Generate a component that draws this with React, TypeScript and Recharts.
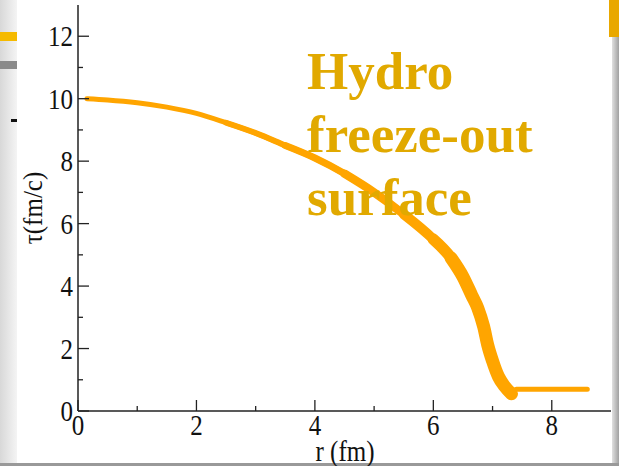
import React from 'react';
import { LineChart, Line, XAxis, YAxis } from 'recharts';

// freeze-out surface: r (fm) and tau (fm/c)
const rValues = [0.15, 0.5, 1.0, 1.5, 2.0, 2.5, 3.0, 3.5, 4.0, 4.5, 5.0, 5.5, 6.0, 6.3, 6.5, 6.65, 6.75, 6.85, 6.92, 7.0, 7.1, 7.2, 7.32, 7.4, 8.0, 8.6];
const tauValues = [10.0, 9.96, 9.87, 9.73, 9.53, 9.23, 8.9, 8.5, 8.1, 7.6, 7.0, 6.3, 5.5, 4.9, 4.3, 3.7, 3.3, 2.7, 2.1, 1.6, 1.1, 0.8, 0.55, 0.7, 0.7, 0.7];

const xTicks = [0, 1, 2, 3, 4, 5, 6, 7, 8, 9];
const yTicks = [0, 1, 2, 3, 4, 5, 6, 7, 8, 9, 10, 11, 12, 13];

const surface = rValues.map((r, i) => ({ r, tau: tauValues[i] }));
// the band of points gets wider as the surface gets steeper
const bands = [
  { from: 0, width: 5 },
  { from: 2.5, width: 6 },
  { from: 3.5, width: 7 },
  { from: 4.5, width: 8.5 },
  { from: 5.3, width: 10 },
  { from: 5.9, width: 11.5 },
  { from: 6.3, width: 13 },
];
const bandData = bands.map(b => surface.filter(d => d.r >= b.from && d.r <= (b.from === 0 ? 99 : 7.32)));

const ORANGE = '#FFA500';
const GOLD = '#E1A900';
const FONT = '"Liberation Serif", "Times New Roman", serif';
const AXIS = '#222';

const major = (v: number) => v % 2 === 0;

// the figure's digits are a little taller than they are wide
const Label = ({ x, y, anchor, v }: { x: number; y: number; anchor: string; v: number }) => (
  <text transform={`translate(${x},${y}) scale(1,1.2)`} textAnchor={anchor} fontFamily={FONT} fontSize={25} fill="#111">{v}</text>
);

const BottomTick = (props: any) => {
  const { x, y, payload } = props;
  const v = payload.value;
  if (v === 9) return null;
  const len = major(v) ? 11 : 5;
  return (
    <g>
      <line x1={x} y1={y} x2={x} y2={y - len} stroke={AXIS} strokeWidth={1.3} />
      {major(v) && <Label x={x} y={y + 24} anchor="middle" v={v} />}
    </g>
  );
};

const TopTick = (props: any) => {
  const { x, y, payload } = props;
  const v = payload.value;
  if (v === 0 || v === 9) return null;
  const len = major(v) ? 11 : 5;
  return <line x1={x} y1={y} x2={x} y2={y + len} stroke={AXIS} strokeWidth={1.3} />;
};

const LeftTick = (props: any) => {
  const { x, y, payload } = props;
  const v = payload.value;
  if (v === 13) return null;
  const len = major(v) ? 11 : 5;
  return (
    <g>
      <line x1={x} y1={y} x2={x + len} y2={y} stroke={AXIS} strokeWidth={1.3} />
      {major(v) && <Label x={x - 5} y={y + 10} anchor="end" v={v} />}
    </g>
  );
};

const RightTick = (props: any) => {
  const { x, y, payload } = props;
  const v = payload.value;
  if (v === 0 || v === 13) return null;
  const len = major(v) ? 11 : 5;
  return <line x1={x} y1={y} x2={x - len} y2={y} stroke={AXIS} strokeWidth={1.3} />;
};

const App: React.FC = () => {
  return (
    <div style={{ position: 'absolute', left: 0, top: 0, width: 619, height: 466, overflow: 'hidden', background: 'linear-gradient(90deg, #d8d8d8 0px, #f4f4f4 17px, #fff 17px, #fff 612px, #e0e0e0 612px, #a0a0a0 619px)' }}>
      {/* bits of the slide behind the figure */}
      <div style={{ position: 'absolute', left: 0, top: 32, width: 17, height: 9, background: '#F5BA00' }} />
      <div style={{ position: 'absolute', left: 0, top: 61, width: 17, height: 8, background: '#8a8a8a' }} />
      <div style={{ position: 'absolute', left: 11, top: 119, width: 6, height: 3, background: '#111' }} />
      <div style={{ position: 'absolute', left: 609, top: 0, width: 10, height: 37, background: '#E9A800' }} />
      <div style={{ position: 'absolute', left: 0, top: 463, width: 619, height: 3, background: '#999' }} />

      <div style={{ position: 'absolute', left: 0, top: 0 }}>
        <LineChart width={619} height={466} data={surface} margin={{ top: 5, right: 8, bottom: 0, left: 0 }}>
          <XAxis dataKey="r" type="number" domain={[0, 9]} ticks={xTicks} interval={0} height={55}
            axisLine={{ stroke: AXIS, strokeWidth: 1.5 }} tickLine={false} tickSize={0} tickMargin={0} tick={<BottomTick />} />
          <XAxis xAxisId="top" orientation="top" dataKey="r" type="number" domain={[0, 9]} ticks={xTicks} interval={0} height={0}
            axisLine={{ stroke: AXIS, strokeWidth: 1.5 }} tickLine={false} tickSize={0} tickMargin={0} tick={<TopTick />} />
          <YAxis type="number" domain={[0, 13]} ticks={yTicks} interval={0} width={78}
            axisLine={{ stroke: AXIS, strokeWidth: 1.5 }} tickLine={false} tickSize={0} tickMargin={0} tick={<LeftTick />} />
          <YAxis yAxisId="right" orientation="right" type="number" domain={[0, 13]} ticks={yTicks} interval={0} width={0}
            axisLine={{ stroke: '#555', strokeWidth: 1.8 }} tickLine={false} tickSize={0} tickMargin={0} tick={<RightTick />} />
          {bands.map((b, i) => (
            <Line key={i} data={bandData[i]} dataKey="tau" type="monotone" stroke={ORANGE} strokeWidth={b.width}
              strokeLinecap="round" strokeLinejoin="round" dot={false} isAnimationActive={false} />
          ))}
        </LineChart>
      </div>

      <div style={{ position: 'absolute', left: 0, top: 0, width: 66, height: 416, display: 'flex', alignItems: 'center', justifyContent: 'center' }}>
        <div style={{ transform: 'rotate(-90deg) scale(1, 1.1)', fontFamily: FONT, fontSize: 25, color: '#111', whiteSpace: 'nowrap' }}>τ(fm/c)</div>
      </div>
      <div style={{ position: 'absolute', left: 245, width: 200, top: 437, textAlign: 'center', fontFamily: FONT, fontSize: 25, color: '#111', lineHeight: '30px', transform: 'scale(1, 1.15)' }}>r (fm)</div>

      <div style={{ position: 'absolute', left: 307, top: 40, fontFamily: FONT, fontWeight: 'bold', fontSize: 53, lineHeight: '63px', color: GOLD }}>
        Hydro<br />freeze-out<br />surface
      </div>
    </div>
  );
};

export default App;
